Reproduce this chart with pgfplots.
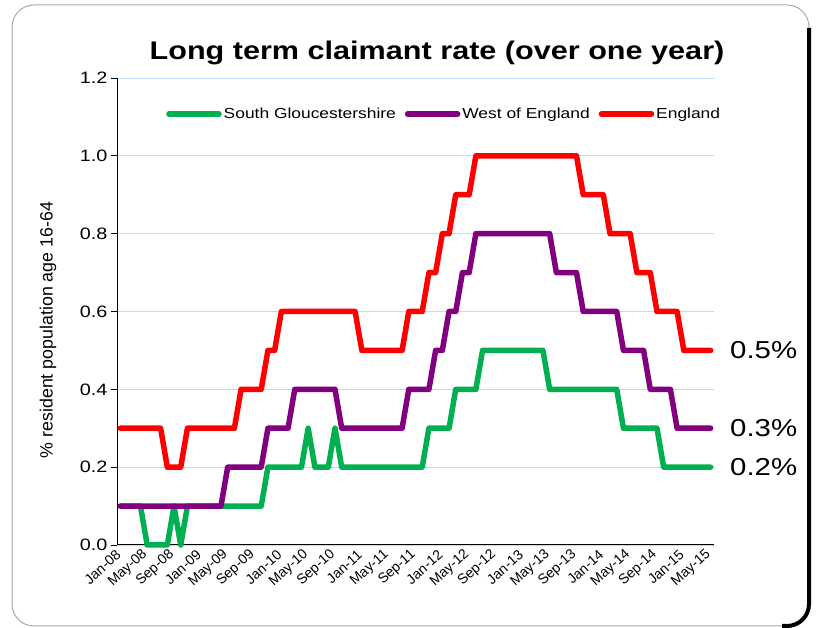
\documentclass[border=0pt]{standalone}
\usepackage{pgfplots}
\pgfplotsset{compat=1.18}
\usepackage{pgfplotstable}
\usepackage{fontspec}
\setmainfont{Liberation Sans}
\newfontfamily\wide[FakeStretch=1.2]{Liberation Sans}
\newcommand\xl[1]{{\fontsize{14}{16}\selectfont #1}}

\definecolor{sgGreen}{RGB}{0,176,80}
\definecolor{woePurple}{RGB}{128,0,128}
\definecolor{engRed}{RGB}{255,0,0}
\definecolor{gridBlue}{RGB}{190,220,250}
\definecolor{frameGray}{RGB}{170,170,170}

% month index (0 = Jan-08), South Glos, West of England, England
\pgfplotstableread{
m sg woe eng
0 0.1 0.1 0.3
1 0.1 0.1 0.3
2 0.1 0.1 0.3
3 0.1 0.1 0.3
4 0 0.1 0.3
5 0 0.1 0.3
6 0 0.1 0.3
7 0 0.1 0.2
8 0.1 0.1 0.2
9 0 0.1 0.2
10 0.1 0.1 0.3
11 0.1 0.1 0.3
12 0.1 0.1 0.3
13 0.1 0.1 0.3
14 0.1 0.1 0.3
15 0.1 0.1 0.3
16 0.1 0.2 0.3
17 0.1 0.2 0.3
18 0.1 0.2 0.4
19 0.1 0.2 0.4
20 0.1 0.2 0.4
21 0.1 0.2 0.4
22 0.2 0.3 0.5
23 0.2 0.3 0.5
24 0.2 0.3 0.6
25 0.2 0.3 0.6
26 0.2 0.4 0.6
27 0.2 0.4 0.6
28 0.3 0.4 0.6
29 0.2 0.4 0.6
30 0.2 0.4 0.6
31 0.2 0.4 0.6
32 0.3 0.4 0.6
33 0.2 0.3 0.6
34 0.2 0.3 0.6
35 0.2 0.3 0.6
36 0.2 0.3 0.5
37 0.2 0.3 0.5
38 0.2 0.3 0.5
39 0.2 0.3 0.5
40 0.2 0.3 0.5
41 0.2 0.3 0.5
42 0.2 0.3 0.5
43 0.2 0.4 0.6
44 0.2 0.4 0.6
45 0.2 0.4 0.6
46 0.3 0.4 0.7
47 0.3 0.5 0.7
48 0.3 0.5 0.8
49 0.3 0.6 0.8
50 0.4 0.6 0.9
51 0.4 0.7 0.9
52 0.4 0.7 0.9
53 0.4 0.8 1.0
54 0.5 0.8 1.0
55 0.5 0.8 1.0
56 0.5 0.8 1.0
57 0.5 0.8 1.0
58 0.5 0.8 1.0
59 0.5 0.8 1.0
60 0.5 0.8 1.0
61 0.5 0.8 1.0
62 0.5 0.8 1.0
63 0.5 0.8 1.0
64 0.4 0.8 1.0
65 0.4 0.7 1.0
66 0.4 0.7 1.0
67 0.4 0.7 1.0
68 0.4 0.7 1.0
69 0.4 0.6 0.9
70 0.4 0.6 0.9
71 0.4 0.6 0.9
72 0.4 0.6 0.9
73 0.4 0.6 0.8
74 0.4 0.6 0.8
75 0.3 0.5 0.8
76 0.3 0.5 0.8
77 0.3 0.5 0.7
78 0.3 0.5 0.7
79 0.3 0.4 0.7
80 0.3 0.4 0.6
81 0.2 0.4 0.6
82 0.2 0.4 0.6
83 0.2 0.3 0.6
84 0.2 0.3 0.5
85 0.2 0.3 0.5
86 0.2 0.3 0.5
87 0.2 0.3 0.5
88 0.2 0.3 0.5
}\claimant

\begin{document}
\begin{tikzpicture}
\useasboundingbox (0pt,0pt) rectangle (818pt,628pt);

% chart frame
\draw[frameGray, line width=1pt, rounded corners=22pt] (12pt,2pt) rectangle (809pt,623pt);
\draw[black, line width=4pt, rounded corners=22pt] (809pt,600pt) -- (809pt,2pt) -- (782pt,2pt);

\node[anchor=base, font=\wide\bfseries\fontsize{25.5}{30}\selectfont] at (437pt,568pt)
  {Long term claimant rate (over one year)};
\node[rotate=90, font=\fontsize{17.8}{20}\selectfont] at (48pt,298pt)
  {\% resident population age 16-64};

\begin{axis}[
  at={(117pt,83pt)}, anchor=south west,
  scale only axis, width=597pt, height=467pt,
  xmin=-0.5, xmax=88.5, ymin=0, ymax=1.2,
  axis x line*=bottom, axis y line*=left,
  axis line style={black, line width=1pt, -},
  tick align=outside,
  major tick length=6pt,
  tick style={black, line width=0.8pt},
  xtick={0,4,...,88},
  xticklabels={\xl{Jan-08},\xl{May-08},\xl{Sep-08},\xl{Jan-09},\xl{May-09},\xl{Sep-09},
    \xl{Jan-10},\xl{May-10},\xl{Sep-10},\xl{Jan-11},\xl{May-11},\xl{Sep-11},
    \xl{Jan-12},\xl{May-12},\xl{Sep-12},\xl{Jan-13},\xl{May-13},\xl{Sep-13},
    \xl{Jan-14},\xl{May-14},\xl{Sep-14},\xl{Jan-15},\xl{May-15}},
  x tick style={draw=none},
  extra x ticks={-0.5,3.5,...,87.5},
  extra x tick labels={},
  extra x tick style={tick style={black, line width=0.8pt}},
  xticklabel style={rotate=42, anchor=east, inner sep=2.5pt},
  ytick={0,0.2,...,1.2},
  yticklabel style={font=\wide\fontsize{16.5}{18}\selectfont},
  /pgf/number format/assume math mode=true,
  /pgf/number format/.cd, fixed, fixed zerofill, precision=1, /pgfplots/.cd,
  ymajorgrids,
  major grid style={gridBlue, line width=0.9pt},
  clip=false,
  legend columns=3,
  legend style={at={(0.548,0.923)}, anchor=center, draw=none, fill=none,
    font=\wide\fontsize{14.5}{16}\selectfont,
    /tikz/every even column/.append style={column sep=7pt}},
  legend image code/.code={\draw[#1] (0pt,0pt) -- (50pt,0pt);},
  every axis plot/.append style={line width=5.5pt, line join=round, line cap=round, no markers},
]
\addplot[sgGreen] table[x=m, y=sg] {\claimant};
\addlegendentry{South Gloucestershire}
\addplot[woePurple] table[x=m, y=woe] {\claimant};
\addlegendentry{West of England}
\addplot[engRed] table[x=m, y=eng] {\claimant};
\addlegendentry{England}

\node[anchor=west, inner sep=0pt, xshift=16pt, font=\wide\fontsize{24.5}{28}\selectfont] at (axis cs:88.5,0.5) {0.5\%};
\node[anchor=west, inner sep=0pt, xshift=16pt, font=\wide\fontsize{24.5}{28}\selectfont] at (axis cs:88.5,0.3) {0.3\%};
\node[anchor=west, inner sep=0pt, xshift=16pt, font=\wide\fontsize{24.5}{28}\selectfont] at (axis cs:88.5,0.2) {0.2\%};
\end{axis}
\end{tikzpicture}
\end{document}
